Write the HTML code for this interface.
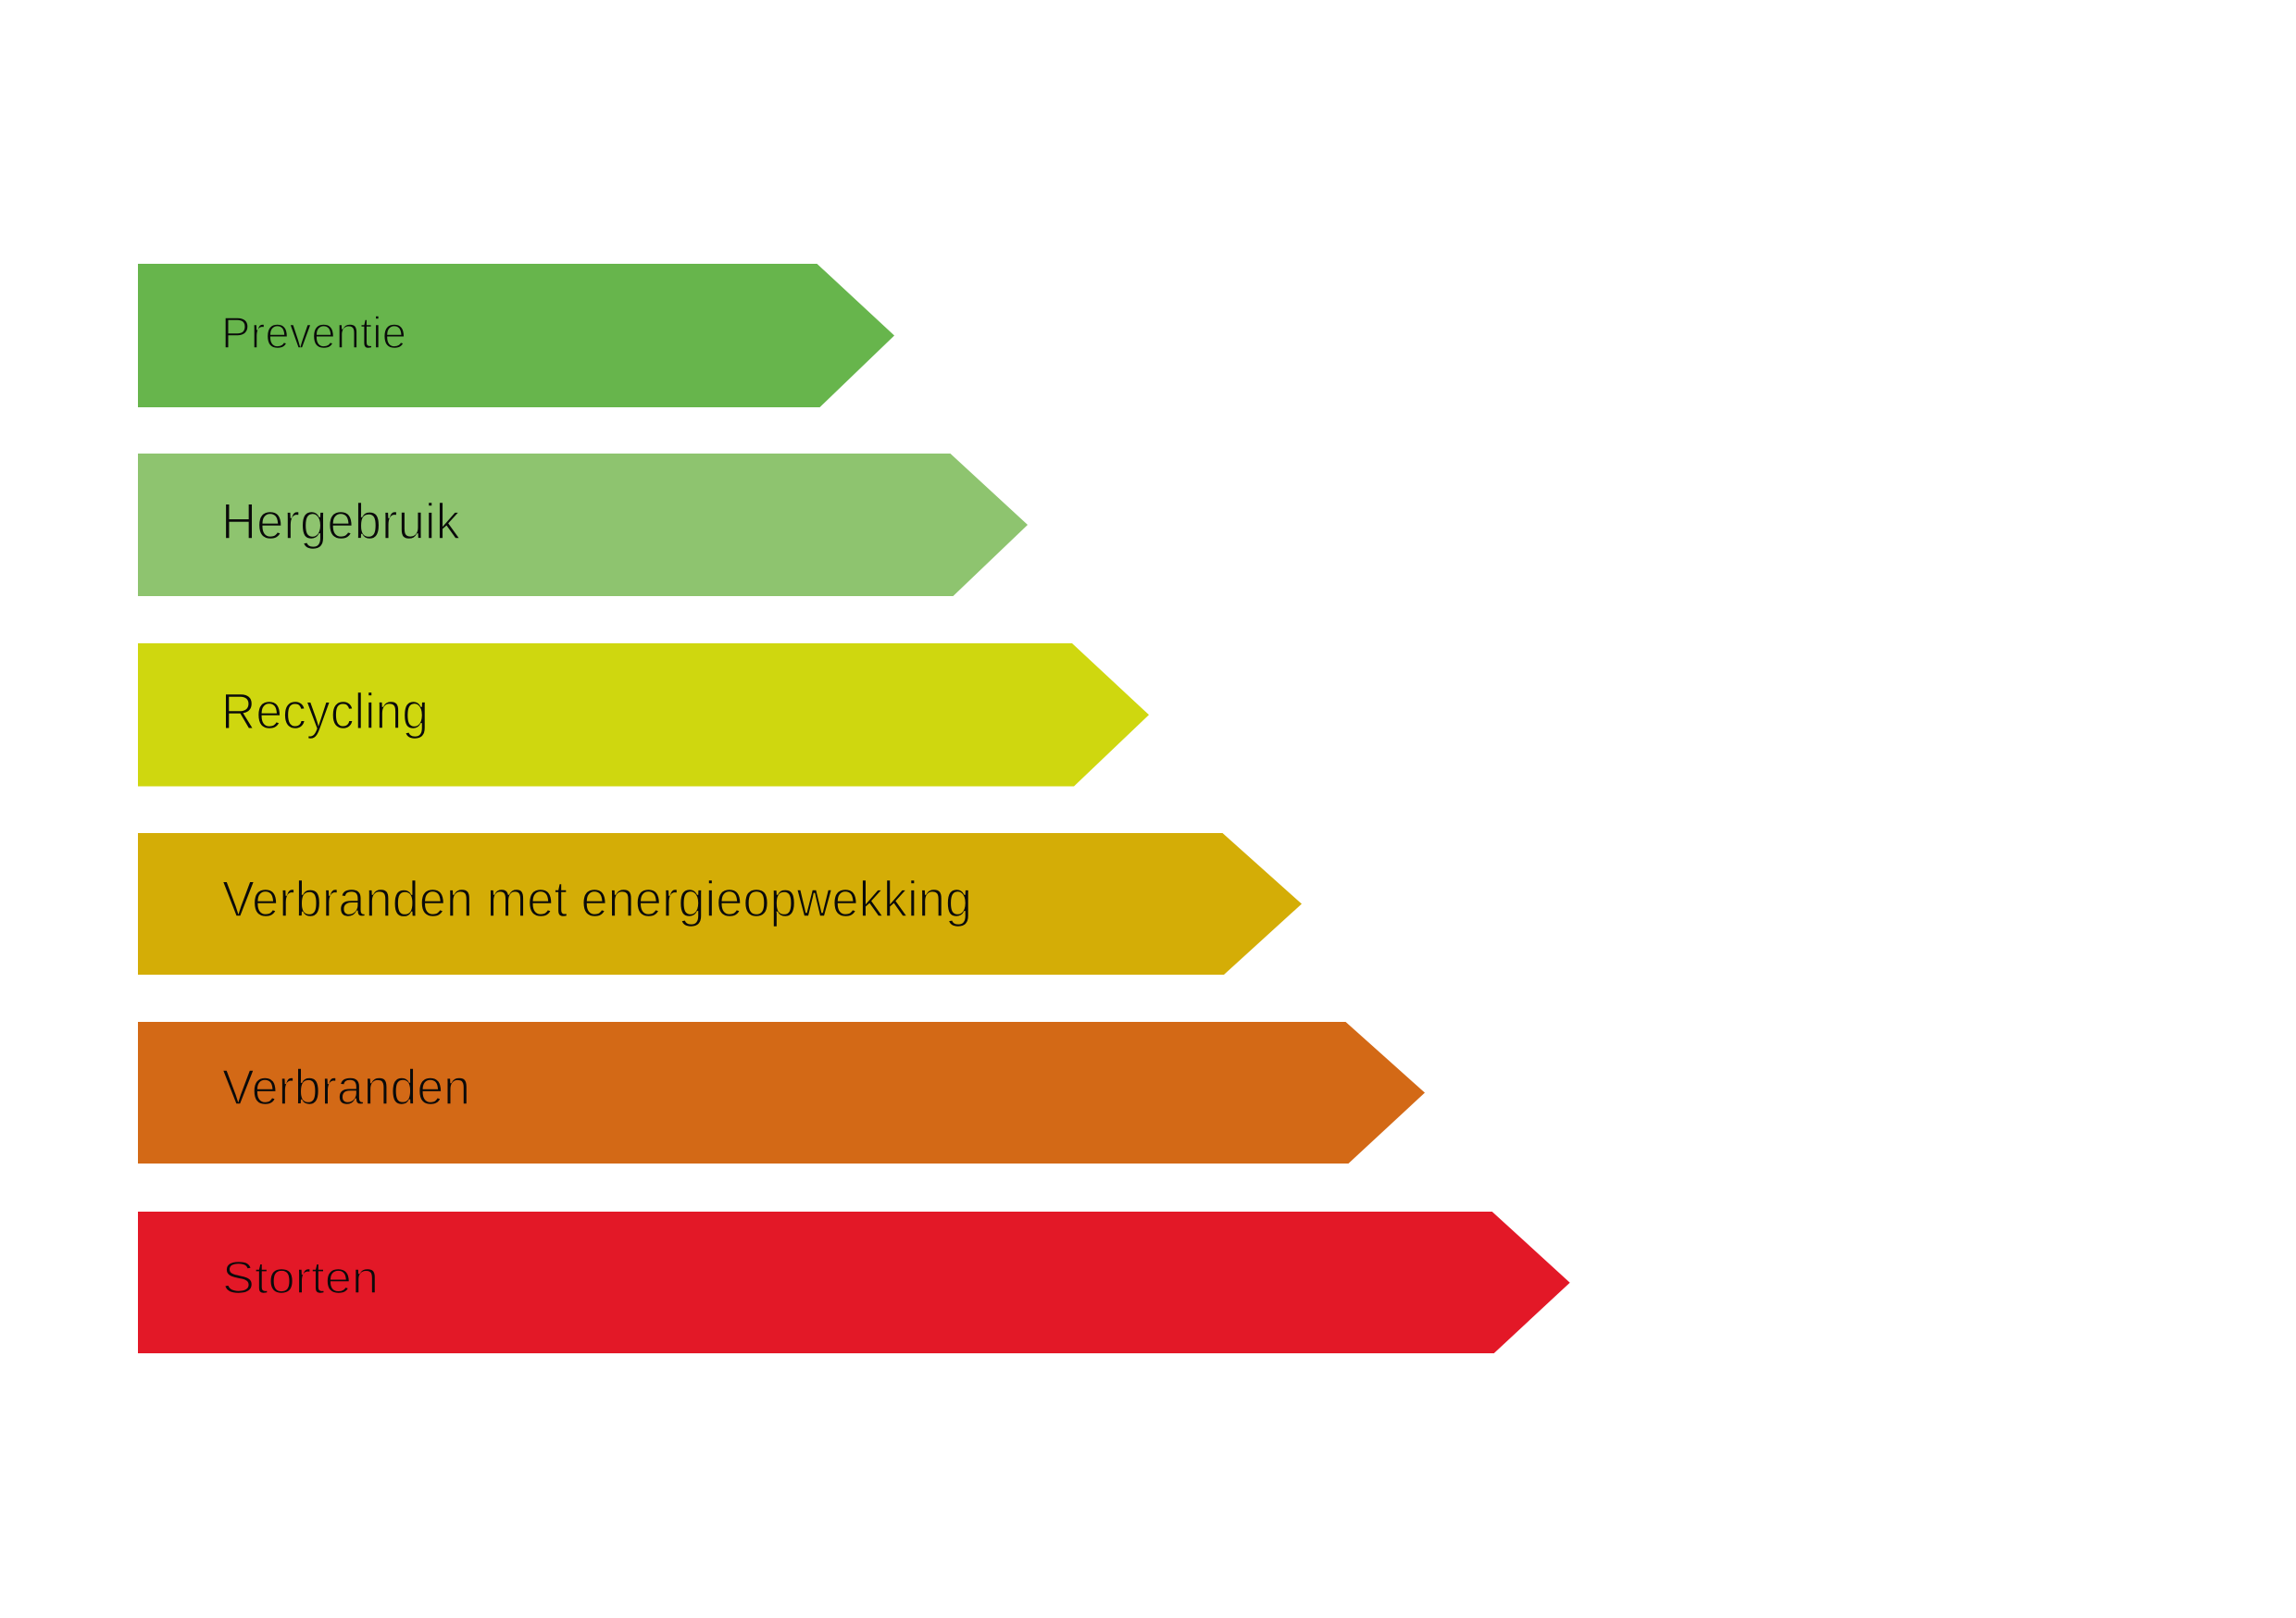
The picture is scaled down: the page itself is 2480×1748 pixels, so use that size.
<!DOCTYPE html>
<html>
<head>
<meta charset="utf-8">
<style>
  html, body { margin: 0; padding: 0; background: #ffffff; }
  body { width: 2480px; height: 1748px; overflow: hidden; }
  svg { display: block; }
  text { font-family: "Liberation Sans", "DejaVu Sans", sans-serif; fill: #0a0a0a; stroke-width: 1.6px; paint-order: fill stroke; }
</style>
</head>
<body>
<svg width="2480" height="1748" viewBox="0 0 2480 1748" xmlns="http://www.w3.org/2000/svg">
  <rect x="0" y="0" width="2480" height="1748" fill="#ffffff"/>

  <!-- Preventie -->
  <polygon points="149,285 882.5,285 966,362.5 885.5,440 149,440" fill="#67b54c"/>
  <text x="239" y="376" font-size="48" textLength="200" lengthAdjust="spacingAndGlyphs" stroke="#67b54c">Preventie</text>

  <!-- Hergebruik -->
  <polygon points="149,490 1026.5,490 1110,567 1029.5,644 149,644" fill="#8ec46f"/>
  <text x="239" y="582" font-size="55" textLength="258" lengthAdjust="spacingAndGlyphs" stroke="#8ec46f">Hergebruik</text>

  <!-- Recycling -->
  <polygon points="149,695 1158,695 1241,772.3 1160,849.5 149,849.5" fill="#cfd70f"/>
  <text x="239" y="787" font-size="55" textLength="224" lengthAdjust="spacingAndGlyphs" stroke="#cfd70f">Recycling</text>

  <!-- Verbranden met energieopwekking -->
  <polygon points="149,900 1320.5,900 1406,976.5 1322,1053 149,1053" fill="#d4ad06"/>
  <text x="240" y="990" font-size="55" textLength="810" lengthAdjust="spacingAndGlyphs" stroke="#d4ad06">Verbranden met energieopwekking</text>

  <!-- Verbranden -->
  <polygon points="149,1104 1453.5,1104 1539,1180.5 1456.5,1257 149,1257" fill="#d36916"/>
  <text x="240" y="1193" font-size="53.5" textLength="268" lengthAdjust="spacingAndGlyphs" stroke="#d36916">Verbranden</text>

  <!-- Storten -->
  <polygon points="149,1309 1611.7,1309 1695.7,1385.7 1613.7,1462 149,1462" fill="#e31827"/>
  <text x="240" y="1397" font-size="49" textLength="169" lengthAdjust="spacingAndGlyphs" stroke="#e31827">Storten</text>
</svg>
</body>
</html>
